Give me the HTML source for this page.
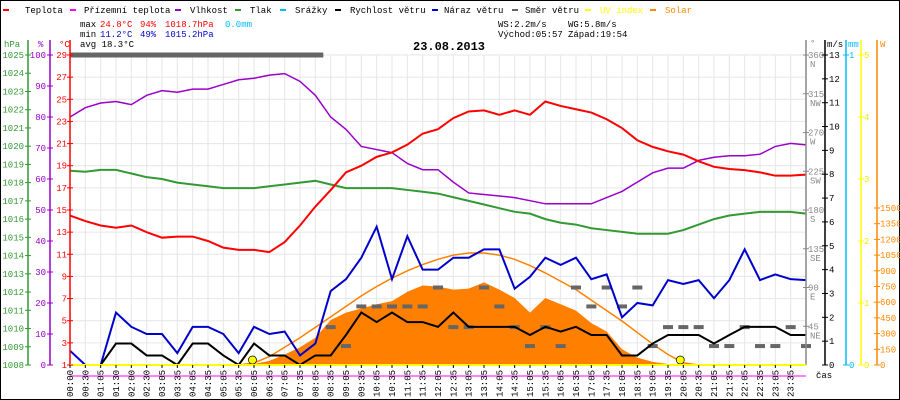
<!DOCTYPE html>
<html><head><meta charset="utf-8">
<style>
html,body{margin:0;padding:0;background:#fff;}
svg{display:block;}
text{font-family:"Liberation Mono",monospace;font-size:9px;}
</style></head>
<body>
<svg id="chart" width="900" height="400" viewBox="0 0 900 400" xmlns="http://www.w3.org/2000/svg">
<rect x="0.5" y="0.5" width="899" height="399" fill="#fff" stroke="#000"/>
<g id="grid"></g>
<g id="series"></g>
<g id="axes"></g>
<g id="legend">
  <line x1="3" y1="10" x2="9" y2="10" stroke="#f00" stroke-width="2"/>
  <text x="25" y="13">Teplota</text>
  <line x1="70" y1="10" x2="76" y2="10" stroke="#f0f" stroke-width="2"/>
  <text x="84" y="13">Přízemní teplota</text>
  <line x1="175" y1="10" x2="181" y2="10" stroke="#90c" stroke-width="2"/>
  <text x="190" y="13">Vlhkost</text>
  <line x1="235" y1="10" x2="241" y2="10" stroke="#393" stroke-width="2"/>
  <text x="250" y="13">Tlak</text>
  <line x1="280" y1="10" x2="286" y2="10" stroke="#0bf" stroke-width="2"/>
  <text x="295" y="13">Srážky</text>
  <line x1="335" y1="10" x2="341" y2="10" stroke="#000" stroke-width="2"/>
  <text x="350" y="13">Rychlost větru</text>
  <line x1="432" y1="10" x2="438" y2="10" stroke="#00c" stroke-width="2"/>
  <text x="444" y="13">Náraz větru</text>
  <line x1="512" y1="10" x2="518" y2="10" stroke="#666" stroke-width="2"/>
  <text x="525" y="13">Směr větru</text>
  <line x1="585" y1="10" x2="591" y2="10" stroke="#ff0" stroke-width="2"/>
  <text x="600" y="13" fill="#ff0">UV index</text>
  <line x1="650" y1="10" x2="656" y2="10" stroke="#f80" stroke-width="2"/>
  <text x="665" y="13" fill="#f80">Solar</text>
</g>
<g id="stats">
  <text x="80" y="27">max</text>
  <text x="100" y="27" fill="#f00">24.8°C</text>
  <text x="140" y="27" fill="#f00">94%</text>
  <text x="165" y="27" fill="#f00">1018.7hPa</text>
  <text x="225" y="27" fill="#0bf">0.0mm</text>
  <text x="80" y="37">min</text>
  <text x="100" y="37" fill="#00c">11.2°C</text>
  <text x="140" y="37" fill="#00c">49%</text>
  <text x="165" y="37" fill="#00c">1015.2hPa</text>
  <text x="80" y="47">avg 18.3°C</text>
  <text x="498" y="27">WS:2.2m/s</text>
  <text x="568" y="27">WG:5.8m/s</text>
  <text x="498" y="37">Východ:05:57</text>
  <text x="568" y="37">Západ:19:54</text>
  <text x="413" y="50" style="font-size:12px;font-weight:bold">23.08.2013</text>
  <text x="816" y="378">čas</text>
</g>
</svg>
<script>
const timeLabels=["00:00","00:30","01:05","01:30","02:00","02:30","03:05","03:35","04:05","04:35","05:05","05:35","06:05","06:35","07:05","07:35","08:05","08:35","09:05","09:35","10:05","10:35","11:05","11:35","12:05","12:35","13:05","13:35","14:05","14:35","15:05","15:35","16:05","16:35","17:05","17:35","18:05","18:35","19:05","19:35","20:05","20:35","21:05","21:35","22:05","22:35","23:05","23:35"];
const temperature=[14.5,14.0,13.6,13.4,13.6,13.0,12.5,12.6,12.6,12.2,11.6,11.4,11.4,11.2,12.1,13.6,15.3,16.8,18.4,19.0,19.8,20.2,20.9,21.9,22.3,23.3,23.9,24.0,23.6,24.0,23.6,24.8,24.4,24.1,23.8,23.2,22.4,21.3,20.7,20.3,20.0,19.4,18.9,18.7,18.6,18.4,18.1,18.1,18.2];
const humidity=[80,83,84.5,85,84,87,88.5,88,89,89,90.5,92,92.5,93.5,94,91.5,87,80,76,70.5,69.5,68.5,65,63,63,59,55.5,55,54.5,54,53,52,52,52,52,54,56,59,62,63.5,63.5,66,67,67.5,67.5,68,70.5,71.5,71];
const pressure=[1018.65,1018.6,1018.7,1018.7,1018.5,1018.3,1018.2,1018.0,1017.9,1017.8,1017.7,1017.7,1017.7,1017.8,1017.9,1018.0,1018.1,1017.9,1017.7,1017.7,1017.7,1017.7,1017.6,1017.5,1017.4,1017.2,1017.0,1016.8,1016.6,1016.4,1016.3,1016.0,1015.8,1015.7,1015.5,1015.4,1015.3,1015.2,1015.2,1015.2,1015.4,1015.7,1016.0,1016.2,1016.3,1016.4,1016.4,1016.4,1016.3];
const windGust=[0.6,0,0,2.2,1.6,1.3,1.3,0.5,1.6,1.6,1.3,0.5,1.6,1.3,1.4,0.4,0.9,3.1,3.6,4.5,5.8,3.6,5.4,4.0,4.0,4.5,4.5,4.85,4.85,3.2,3.7,4.5,4.2,4.5,3.6,3.8,2.0,2.6,2.5,3.56,3.4,3.56,2.8,3.56,4.85,3.56,3.8,3.6,3.56];
const windSpeed=[0,0,0,0.9,0.9,0.4,0.4,0,0.9,0.9,0.4,0,0.9,0.4,0.4,0,0.4,0.4,1.26,2.2,1.8,2.2,1.8,1.8,1.6,2.2,1.6,1.6,1.6,1.6,1.26,1.6,1.4,1.6,1.26,1.26,0.4,0.4,0.9,1.26,1.26,1.26,0.9,1.26,1.6,1.6,1.6,1.26,1.26];
const solar=[0,0,0,0,0,0,0,0,0,0,0,0,10,40,100,170,260,430,500,540,580,610,700,760,750,720,730,790,720,640,500,640,580,520,400,320,150,70,30,10,0,0,0,0,0,0,0,0,0];
const solarClear=[0,0,0,0,0,0,0,0,0,0,0,0,20,80,170,260,360,460,560,660,750,830,900,960,1010,1050,1070,1070,1050,1010,950,880,800,720,620,520,420,310,200,100,20,0,0,0,0,0,0,0,0];
const windDir=[360,360,360,360,360,360,360,360,360,360,360,360,360,360,360,360,360,44,22,68,68,68,68,68,90,44,44,90,68,44,22,44,22,90,68,90,68,90,22,44,44,44,22,22,44,22,22,44,22];
const uvIndex=[0,0,0,0,0,0,0,0,0,0,0,0,0,0,0,0,0,0,0,0,0,0,0,0,0,0,0,0,0,0,0,0,0,0,0,0,0,0,0,0,0,0,0,0,0,0,0,0,0];
const sunEvents=[357,1194];
const hpaTicks=[1025,1024,1023,1022,1021,1020,1019,1018,1017,1016,1015,1014,1013,1012,1011,1010,1009,1008];
const humTicks=[100,90,80,70,60,50,40,30,20,10,0];
const tempTicks=[29,27,25,23,21,19,17,15,13,11,9,7,5,3,1];
const dirTicks=[360,315,270,225,180,135,90,45];
const dirNames=["N","NW","W","SW","S","SE","E","NE"];
const msTicks=[13,12,11,10,9,8,7,6,5,4,3,2,1,0];
const uvTicks=[5,4,3,2,1,0];
const wTicks=[1500,1350,1200,1050,900,750,600,450,300,150,0];

const NS="http://www.w3.org/2000/svg";
const L=70,R=806,T=55,B=365;
const xI=i=>L+i*(R-L)/48;
const xMin=m=>L+m*(R-L)/1440;
const yT=v=>B-(v-1)*(B-T)/28;
const yH=v=>B-v*(B-T)/100;
const yP=v=>B-(v-1008)*(B-T)/17;
const yW=v=>B-v*(B-T)/13;
const yS=v=>B-v*157/1500;
const yD=v=>B-v*(B-T)/360;
const yU=v=>B-v*(B-T)/5;
function mk(tag,attrs,parent){const e=document.createElementNS(NS,tag);for(const k in attrs)e.setAttribute(k,attrs[k]);parent.appendChild(e);return e;}
function txt(x,y,s,fill,anchor,parent){const e=mk('text',{x:x,y:y,fill:fill||'#000','text-anchor':anchor||'start'},parent);e.textContent=s;return e;}
const grid=document.getElementById('grid'),ser=document.getElementById('series'),ax=document.getElementById('axes');

// grid
for(let k=0;k<=48;k++){const g=mk('line',{x1:xI(k),x2:xI(k),y1:T,y2:B,stroke:'#e6e6e6'},grid);

}
tempTicks.forEach(v=>{const g=mk('line',{x1:L,x2:R,y1:yT(v),y2:yT(v),stroke:'#e6e6e6'},grid);

});

// solar fill
let pts=[];solar.forEach((v,i)=>pts.push(xI(i)+','+yS(v)));
const sf=mk('polygon',{points:xI(0)+','+B+' '+pts.join(' ')+' '+xI(48)+','+B,fill:'#ff8000'},ser);


function line(arr,fy,color,w,name){const p=arr.map((v,i)=>xI(i)+','+fy(v)).join(' ');
const e=mk('polyline',{points:p,fill:'none',stroke:color,'stroke-width':w},ser);

}
line(solarClear,yS,'#ff8000',1.5,'solar-clear-sky-line');
// wind direction
windDir.forEach((v,i)=>{let e;
 if(v>=360){e=mk('line',{x1:xI(i)-(i?8:0),x2:xI(i)+8,y1:yD(v),y2:yD(v),stroke:'#666','stroke-width':5},ser);}
 else{e=mk('line',{x1:xI(i)-5,x2:xI(i)+5,y1:yD(v),y2:yD(v),stroke:'#666','stroke-width':4},ser);}
 
 });
line(pressure,yP,'#393',2,'pressure-line');
line(humidity,yH,'#90c',1.5,'humidity-line');
line(temperature,yT,'#f00',2,'temperature-line');
line(windGust,yW,'#00c',2,'wind-gust-line');
line(windSpeed,yW,'#000',2,'wind-speed-line');
line(uvIndex,yU,'#ff0',2,'uv-index-line');
sunEvents.forEach(m=>{const c=mk('circle',{cx:xMin(m),cy:B-5,r:4,fill:'#ff0',stroke:'#000','stroke-width':0.7},ser);

});
const pk=mk('line',{x1:L,x2:R,y1:376,y2:376,stroke:'#f0f','stroke-width':1},ser);



// axes
function vaxis(x,color,name){const e=mk('line',{x1:x,x2:x,y1:T-15,y2:B,stroke:color,'stroke-width':1.5},ax);

}
vaxis(28,'#393','hpa-axis');vaxis(50,'#90c','humidity-axis');vaxis(L,'#f00','temp-axis');
vaxis(R,'#888','direction-axis');vaxis(825,'#000','wind-axis');vaxis(846,'#0bf','rain-axis');vaxis(861,'#ff0','uv-axis');vaxis(877,'#f80','solar-axis');
const hb=mk('line',{x1:L,x2:R,y1:B,y2:B,stroke:'#ff0','stroke-width':2},ax);


txt(4,47,'hPa','#393','start',ax);txt(38,47,'%','#90c','start',ax);txt(59,47,'°C','#f00','start',ax);
txt(810,46,'°','#888','start',ax);txt(827,47,'m/s','#000','start',ax);txt(848,47,'mm','#0bf','start',ax);txt(880,47,'W','#f80','start',ax);
function tick(x,y,c){mk('line',{x1:x-3,x2:x+3,y1:y,y2:y,stroke:c},ax);}
hpaTicks.forEach(v=>{tick(28,yP(v),'#393');const t=txt(24,yP(v)+3,String(v),'#393','end',ax);

});
humTicks.forEach(v=>{tick(50,yH(v),'#90c');const t=txt(46,yH(v)+3,String(v),'#90c','end',ax);

});
tempTicks.forEach(v=>{tick(L,yT(v),'#f00');const t=txt(67,yT(v)+3,String(v),'#f00','end',ax);

});
dirTicks.forEach((v,k)=>{tick(R,yD(v),'#888');const t=txt(808,yD(v)+3,String(v),'#888','start',ax);


txt(810,yD(v)+12,dirNames[k],'#888','start',ax);});
msTicks.forEach(v=>{tick(825,yW(v),'#000');const t=txt(829,yW(v)+3,String(v),'#000','start',ax);

});
tick(846,T,'#0bf');txt(849,T+3,'1','#0bf','start',ax);tick(846,B,'#0bf');txt(849,B+3,'0','#0bf','start',ax);
uvTicks.forEach(v=>{tick(861,yU(v),'#ff0');const t=txt(864,yU(v)+3,String(v),'#ee0','start',ax);

});
wTicks.forEach(v=>{tick(877,yS(v),'#f80');const t=txt(880,yS(v)+3,String(v),'#f80','start',ax);

});
timeLabels.forEach((s,k)=>{const x=xI(k);mk('line',{x1:x,x2:x,y1:B,y2:B+3,stroke:'#000'},ax);
const t=mk('text',{x:0,y:0,transform:'translate('+(x+3)+',397) rotate(-90)',fill:'#000'},ax);t.textContent=s;

});
</script>
</body></html>
